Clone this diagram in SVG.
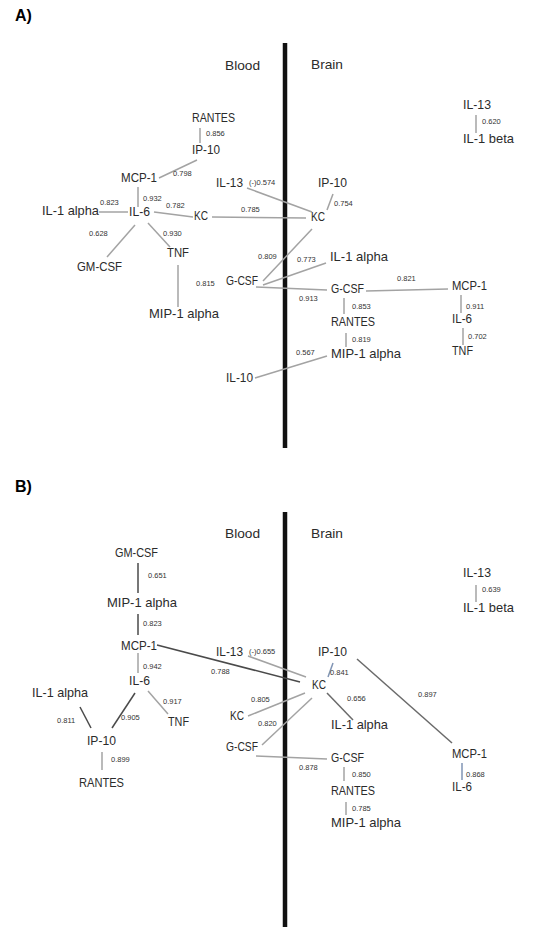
<svg xmlns="http://www.w3.org/2000/svg" width="533" height="930" viewBox="0 0 533 930">
<style>
text{font-family:"Liberation Sans",Arial,sans-serif;fill:#2b2b2b}
.n{font-size:13px}
.h{font-size:13px}
.p{font-size:16px;font-weight:bold;fill:#000}
.v{font-size:7.5px;fill:#333}
.e{stroke:#a3a3a3;stroke-width:1.5;fill:none}
.d{stroke:#4a4a4a;stroke-width:1.5;fill:none}
.m{stroke:#6a6a6a;stroke-width:1.5;fill:none}
.b{stroke:#8094b4;stroke-width:1.5;fill:none}
.ax{stroke:#111;stroke-width:4.5}
</style>
<rect width="533" height="930" fill="#fff"/>

<!-- ========== Panel A ========== -->
<g id="panelA-header">
<text class="p" x="15" y="21">A)</text>
<text class="h" x="225" y="70" textLength="35" lengthAdjust="spacingAndGlyphs">Blood</text>
<text class="h" x="311" y="69" textLength="32" lengthAdjust="spacingAndGlyphs">Brain</text>
<line class="ax" x1="285" y1="43" x2="285" y2="448"/>
</g>

<g id="connectorsA">
<line class="e" x1="200" y1="128" x2="200" y2="143"/>
<line class="e" x1="159" y1="178" x2="197" y2="160"/>
<line class="e" x1="138" y1="187" x2="138" y2="207"/>
<line class="e" x1="99" y1="212" x2="128" y2="212"/>
<line class="e" x1="154" y1="212" x2="193" y2="217"/>
<line class="e" x1="212" y1="217" x2="306" y2="218"/>
<line class="e" x1="135" y1="225" x2="107" y2="257"/>
<line class="e" x1="148" y1="223" x2="170" y2="247"/>
<line class="e" x1="178" y1="265" x2="178" y2="307"/>
<line class="e" x1="247" y1="188" x2="312" y2="212"/>
<line class="e" x1="333" y1="194" x2="327" y2="210"/>
<line class="e" x1="312" y1="229" x2="263" y2="281"/>
<line class="e" x1="263" y1="285" x2="326" y2="263"/>
<line class="e" x1="256" y1="287" x2="327" y2="290"/>
<line class="e" x1="366" y1="291" x2="448" y2="289"/>
<line class="e" x1="461" y1="295" x2="461" y2="313"/>
<line class="e" x1="463" y1="328" x2="463" y2="345"/>
<line class="e" x1="344" y1="298" x2="344" y2="314"/>
<line class="e" x1="346" y1="333" x2="346" y2="347"/>
<line class="e" x1="255" y1="378" x2="327" y2="356"/>
<line class="e" x1="476" y1="115" x2="476" y2="133"/>
<text class="v" x="206" y="135.5">0.856</text>
<text class="v" x="173" y="176">0.798</text>
<text class="v" x="143" y="200.5">0.932</text>
<text class="v" x="100" y="204.5">0.823</text>
<text class="v" x="166" y="207.5">0.782</text>
<text class="v" x="241" y="211.5">0.785</text>
<text class="v" x="89" y="235.5">0.628</text>
<text class="v" x="163" y="235.5">0.930</text>
<text class="v" x="196" y="285.5">0.815</text>
<text class="v" x="249" y="184.5">(-)0.574</text>
<text class="v" x="334" y="205.5">0.754</text>
<text class="v" x="258" y="258.5">0.809</text>
<text class="v" x="297" y="261.5">0.773</text>
<text class="v" x="299" y="300.5">0.913</text>
<text class="v" x="397" y="280.5">0.821</text>
<text class="v" x="466" y="308.5">0.911</text>
<text class="v" x="468" y="338.5">0.702</text>
<text class="v" x="352" y="308.5">0.853</text>
<text class="v" x="352" y="341.5">0.819</text>
<text class="v" x="296" y="354.5">0.567</text>
<text class="v" x="482" y="123.5">0.620</text>
</g>

<g id="A-blood-RANTES"><text class="n" x="192" y="122" textLength="43" lengthAdjust="spacingAndGlyphs">RANTES</text></g>
<g id="A-blood-IP10"><text class="n" x="192" y="154" textLength="28" lengthAdjust="spacingAndGlyphs">IP-10</text></g>
<g id="A-blood-MCP1"><text class="n" x="121" y="182" textLength="36" lengthAdjust="spacingAndGlyphs">MCP-1</text></g>
<g id="A-blood-IL6"><text class="n" x="129" y="216" textLength="21" lengthAdjust="spacingAndGlyphs">IL-6</text></g>
<g id="A-blood-IL1alpha"><text class="n" x="42" y="215" textLength="57" lengthAdjust="spacingAndGlyphs">IL-1 alpha</text></g>
<g id="A-blood-KC"><text class="n" x="194" y="220" textLength="14" lengthAdjust="spacingAndGlyphs">KC</text></g>
<g id="A-blood-GMCSF"><text class="n" x="77" y="271" textLength="45" lengthAdjust="spacingAndGlyphs">GM-CSF</text></g>
<g id="A-blood-TNF"><text class="n" x="167" y="257" textLength="22" lengthAdjust="spacingAndGlyphs">TNF</text></g>
<g id="A-blood-MIP1alpha"><text class="n" x="149" y="318" textLength="70" lengthAdjust="spacingAndGlyphs">MIP-1 alpha</text></g>
<g id="A-blood-IL13"><text class="n" x="216" y="187" textLength="27" lengthAdjust="spacingAndGlyphs">IL-13</text></g>
<g id="A-blood-GCSF"><text class="n" x="226" y="285" textLength="32" lengthAdjust="spacingAndGlyphs">G-CSF</text></g>
<g id="A-blood-IL10"><text class="n" x="226" y="382" textLength="27" lengthAdjust="spacingAndGlyphs">IL-10</text></g>

<g id="A-brain-IP10"><text class="n" x="318" y="187" textLength="29" lengthAdjust="spacingAndGlyphs">IP-10</text></g>
<g id="A-brain-KC"><text class="n" x="311" y="221" textLength="14" lengthAdjust="spacingAndGlyphs">KC</text></g>
<g id="A-brain-IL1alpha"><text class="n" x="330" y="261" textLength="58" lengthAdjust="spacingAndGlyphs">IL-1 alpha</text></g>
<g id="A-brain-GCSF"><text class="n" x="331" y="293" textLength="33" lengthAdjust="spacingAndGlyphs">G-CSF</text></g>
<g id="A-brain-MCP1"><text class="n" x="452" y="290" textLength="35" lengthAdjust="spacingAndGlyphs">MCP-1</text></g>
<g id="A-brain-IL6"><text class="n" x="452" y="323" textLength="20" lengthAdjust="spacingAndGlyphs">IL-6</text></g>
<g id="A-brain-TNF"><text class="n" x="452" y="355" textLength="21" lengthAdjust="spacingAndGlyphs">TNF</text></g>
<g id="A-brain-RANTES"><text class="n" x="331" y="326" textLength="44" lengthAdjust="spacingAndGlyphs">RANTES</text></g>
<g id="A-brain-MIP1alpha"><text class="n" x="331" y="358" textLength="70" lengthAdjust="spacingAndGlyphs">MIP-1 alpha</text></g>
<g id="A-brain-IL13"><text class="n" x="463" y="109" textLength="28" lengthAdjust="spacingAndGlyphs">IL-13</text></g>
<g id="A-brain-IL1beta"><text class="n" x="463" y="143" textLength="51" lengthAdjust="spacingAndGlyphs">IL-1 beta</text></g>

<!-- ========== Panel B ========== -->
<g id="panelB-header">
<text class="p" x="15" y="492">B)</text>
<text class="h" x="225" y="538" textLength="35" lengthAdjust="spacingAndGlyphs">Blood</text>
<text class="h" x="311" y="538" textLength="32" lengthAdjust="spacingAndGlyphs">Brain</text>
<line class="ax" x1="285" y1="512" x2="285" y2="927"/>
</g>

<g id="connectorsB">
<line class="d" x1="138" y1="563" x2="138" y2="593"/>
<line class="d" x1="138" y1="614" x2="138" y2="635"/>
<line class="d" x1="157" y1="645" x2="300" y2="682"/>
<line class="e" x1="138" y1="653" x2="138" y2="673"/>
<line class="d" x1="135" y1="693" x2="112" y2="728"/>
<line class="e" x1="148" y1="691" x2="168" y2="714"/>
<line class="d" x1="80" y1="707" x2="91" y2="728"/>
<line class="e" x1="102" y1="752" x2="102" y2="770"/>
<line class="e" x1="248" y1="656" x2="306" y2="677"/>
<line class="b" x1="333" y1="663" x2="328" y2="677"/>
<line class="m" x1="357" y1="659" x2="452" y2="743"/>
<line class="m" x1="327" y1="693" x2="353" y2="720"/>
<line class="e" x1="248" y1="716" x2="305" y2="693"/>
<line class="e" x1="312" y1="698" x2="262" y2="745"/>
<line class="e" x1="256" y1="756" x2="327" y2="759"/>
<line class="e" x1="344" y1="767" x2="344" y2="781"/>
<line class="e" x1="346" y1="802" x2="346" y2="815"/>
<line class="b" x1="462" y1="763" x2="462" y2="780"/>
<line class="e" x1="476" y1="585" x2="476" y2="602"/>
<text class="v" x="148" y="577.5">0.651</text>
<text class="v" x="143" y="625.5">0.823</text>
<text class="v" x="211" y="673.5">0.788</text>
<text class="v" x="143" y="668.5">0.942</text>
<text class="v" x="121" y="719.5">0.905</text>
<text class="v" x="163" y="703.5">0.917</text>
<text class="v" x="57" y="722.5">0.811</text>
<text class="v" x="111" y="761.5">0.899</text>
<text class="v" x="249" y="653.5">(-)0.655</text>
<text class="v" x="330" y="674.5">0.841</text>
<text class="v" x="418" y="696.5">0.897</text>
<text class="v" x="347" y="700.5">0.656</text>
<text class="v" x="251" y="701.5">0.805</text>
<text class="v" x="258" y="725.5">0.820</text>
<text class="v" x="299" y="769.5">0.878</text>
<text class="v" x="352" y="776.5">0.850</text>
<text class="v" x="352" y="810.5">0.785</text>
<text class="v" x="466" y="776.5">0.868</text>
<text class="v" x="482" y="591.5">0.639</text>
</g>

<g id="B-blood-GMCSF"><text class="n" x="115" y="557" textLength="43" lengthAdjust="spacingAndGlyphs">GM-CSF</text></g>
<g id="B-blood-MIP1alpha"><text class="n" x="107" y="607" textLength="70" lengthAdjust="spacingAndGlyphs">MIP-1 alpha</text></g>
<g id="B-blood-MCP1"><text class="n" x="121" y="650" textLength="36" lengthAdjust="spacingAndGlyphs">MCP-1</text></g>
<g id="B-blood-IL6"><text class="n" x="129" y="685" textLength="21" lengthAdjust="spacingAndGlyphs">IL-6</text></g>
<g id="B-blood-TNF"><text class="n" x="168" y="726" textLength="21" lengthAdjust="spacingAndGlyphs">TNF</text></g>
<g id="B-blood-IL1alpha"><text class="n" x="32" y="697" textLength="56" lengthAdjust="spacingAndGlyphs">IL-1 alpha</text></g>
<g id="B-blood-IP10"><text class="n" x="87" y="745" textLength="29" lengthAdjust="spacingAndGlyphs">IP-10</text></g>
<g id="B-blood-RANTES"><text class="n" x="79" y="787" textLength="45" lengthAdjust="spacingAndGlyphs">RANTES</text></g>
<g id="B-blood-IL13"><text class="n" x="216" y="656" textLength="27" lengthAdjust="spacingAndGlyphs">IL-13</text></g>
<g id="B-blood-KC"><text class="n" x="230" y="720" textLength="14" lengthAdjust="spacingAndGlyphs">KC</text></g>
<g id="B-blood-GCSF"><text class="n" x="226" y="751" textLength="32" lengthAdjust="spacingAndGlyphs">G-CSF</text></g>

<g id="B-brain-IP10"><text class="n" x="318" y="656" textLength="29" lengthAdjust="spacingAndGlyphs">IP-10</text></g>
<g id="B-brain-KC"><text class="n" x="312" y="689" textLength="14" lengthAdjust="spacingAndGlyphs">KC</text></g>
<g id="B-brain-IL1alpha"><text class="n" x="331" y="729" textLength="57" lengthAdjust="spacingAndGlyphs">IL-1 alpha</text></g>
<g id="B-brain-GCSF"><text class="n" x="331" y="762" textLength="33" lengthAdjust="spacingAndGlyphs">G-CSF</text></g>
<g id="B-brain-RANTES"><text class="n" x="331" y="795" textLength="44" lengthAdjust="spacingAndGlyphs">RANTES</text></g>
<g id="B-brain-MIP1alpha"><text class="n" x="331" y="827" textLength="70" lengthAdjust="spacingAndGlyphs">MIP-1 alpha</text></g>
<g id="B-brain-MCP1"><text class="n" x="452" y="758" textLength="35" lengthAdjust="spacingAndGlyphs">MCP-1</text></g>
<g id="B-brain-IL6"><text class="n" x="452" y="791" textLength="20" lengthAdjust="spacingAndGlyphs">IL-6</text></g>
<g id="B-brain-IL13"><text class="n" x="463" y="577" textLength="28" lengthAdjust="spacingAndGlyphs">IL-13</text></g>
<g id="B-brain-IL1beta"><text class="n" x="463" y="612" textLength="51" lengthAdjust="spacingAndGlyphs">IL-1 beta</text></g>
</svg>
